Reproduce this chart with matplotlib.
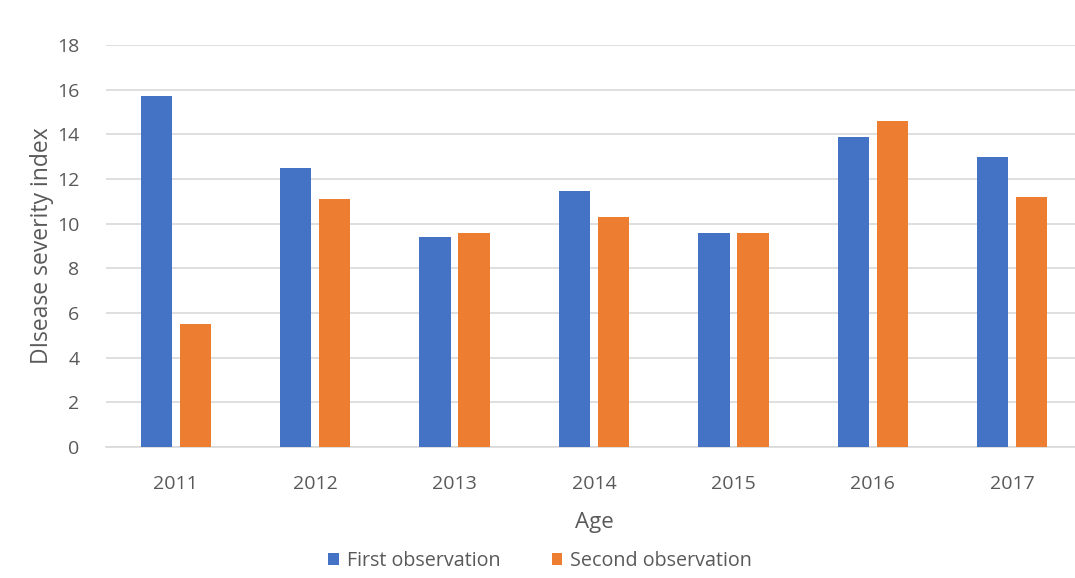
import matplotlib.pyplot as plt
import numpy as np

years = ['2011', '2012', '2013', '2014', '2015', '2016', '2017']
first_obs = [15.7, 12.5, 9.4, 11.45, 9.6, 13.9, 13.0]
second_obs = [5.5, 11.1, 9.6, 10.3, 9.6, 14.6, 11.2]

blue = '#4472C4'
orange = '#ED7D31'
text_color = '#595959'
grid_color = '#D9D9D9'

plt.rcParams['font.family'] = ['Open Sans', 'DejaVu Sans']

fig = plt.figure(figsize=(10.75, 5.78), dpi=100)
ax = fig.add_axes([106 / 1075, 1 - 447 / 578, 976 / 1075, 402 / 578])

x = np.arange(len(years))
w = 0.225
off = 0.14
ax.bar(x - off, first_obs, w, color=blue, label='First observation', zorder=3)
ax.bar(x + off, second_obs, w, color=orange, label='Second observation', zorder=3)

ax.set_xlim(-0.5, len(years) - 0.5)
ax.set_ylim(0, 18)
ax.set_yticks(np.arange(0, 19, 2))
ax.set_xticks(x)
ax.set_xticklabels(years)
ax.tick_params(axis='both', length=0, colors=text_color, labelsize=14)
ax.tick_params(axis='x', pad=20)
ax.tick_params(axis='y', pad=19)
ax.grid(axis='y', color=grid_color, linewidth=1.2, zorder=0)
for s in ['top', 'right', 'left']:
    ax.spines[s].set_visible(False)
ax.spines['bottom'].set_color(grid_color)
ax.spines['bottom'].set_linewidth(1.2)

ax.set_xlabel('Age', color=text_color, fontsize=16, labelpad=14)
ax.set_ylabel('DIsease severity index', color=text_color, fontsize=16.5, labelpad=2)

fig.legend(loc='center', bbox_to_anchor=(540 / 1075, 1 - 561 / 578), ncol=2,
           frameon=False, fontsize=14.2, labelcolor=text_color,
           handlelength=0.55, handleheight=0.55, handletextpad=0.4,
           columnspacing=2.6)

fig.savefig('out.png', dpi=100)
